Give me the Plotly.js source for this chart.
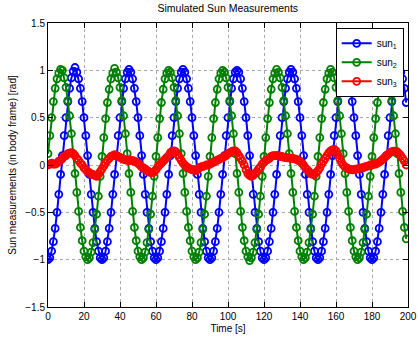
<!DOCTYPE html>
<html>
<head>
<meta charset="utf-8">
<script src="https://cdn.plot.ly/plotly-3.0.1.min.js"></script>
<style>
html,body{margin:0;padding:0;background:#fff;}
#chart{width:418px;height:337px;}
</style>
</head>
<body>
<div id="chart"></div>
<script>
const time = [0,1,2,3,4,5,6,7,8,9,10,11,12,13,14,15,16,17,18,19,20,21,22,23,24,25,26,27,28,29,
30,31,32,33,34,35,36,37,38,39,40,41,42,43,44,45,46,47,48,49,50,51,52,53,54,55,56,57,58,59,
60,61,62,63,64,65,66,67,68,69,70,71,72,73,74,75,76,77,78,79,80,81,82,83,84,85,86,87,88,89,
90,91,92,93,94,95,96,97,98,99,100,101,102,103,104,105,106,107,108,109,110,111,112,113,114,115,116,117,118,119,
120,121,122,123,124,125,126,127,128,129,130,131,132,133,134,135,136,137,138,139,140,141,142,143,144,145,146,147,148,149,
150,151,152,153,154,155,156,157,158,159,160,161,162,163,164,165,166,167,168,169,170,171,172,173,174,175,176,177,178,179,
180,181,182,183,184,185,186,187,188,189,190,191,192,193,194,195,196,197,198,199];

const sun1 = [
-1,-0.98,-0.91,-0.81,-0.67,-0.5,-0.31,-0.1,0.1,0.31,0.5,0.67,0.81,0.92,0.99,1.03,0.98,0.91,0.81,0.67,0.5,0.31,0.1,-0.1,-0.31,-0.5,-0.67,-0.81,-0.91,-0.98,
-1,-0.98,-0.91,-0.81,-0.67,-0.5,-0.31,-0.1,0.1,0.31,0.5,0.67,0.81,0.91,0.98,1.01,0.98,0.91,0.81,0.67,0.5,0.31,0.1,-0.1,-0.31,-0.5,-0.67,-0.81,-0.91,-0.98,
-1,-0.98,-0.91,-0.81,-0.67,-0.5,-0.31,-0.1,0.1,0.31,0.5,0.67,0.81,0.91,0.98,1.01,0.98,0.91,0.81,0.67,0.5,0.31,0.1,-0.1,-0.31,-0.5,-0.67,-0.81,-0.91,-0.98,
-1,-0.98,-0.91,-0.81,-0.67,-0.5,-0.31,-0.1,0.1,0.31,0.5,0.67,0.81,0.91,0.98,1,0.98,0.91,0.81,0.67,0.5,0.31,0.1,-0.1,-0.31,-0.5,-0.67,-0.81,-0.91,-0.98,
-1,-0.98,-0.91,-0.81,-0.67,-0.5,-0.31,-0.1,0.1,0.31,0.5,0.67,0.81,0.91,0.98,1.01,0.98,0.91,0.81,0.67,0.5,0.31,0.1,-0.1,-0.31,-0.5,-0.67,-0.81,-0.91,-0.98,
-1,-0.98,-0.91,-0.81,-0.67,-0.5,-0.31,-0.1,0.1,0.31,0.5,0.67,0.81,0.91,0.98,1,0.98,0.91,0.81,0.67,0.5,0.31,0.1,-0.1,-0.31,-0.5,-0.67,-0.81,-0.91,-0.98,
-1,-0.98,-0.91,-0.81,-0.67,-0.5,-0.31,-0.1,0.1,0.31,0.5,0.67,0.81,0.91,0.98,1,0.98,0.91,0.81,0.66];

const sun2 = [
0.12,0.31,0.5,0.67,0.81,0.91,0.97,1.01,1.0,0.92,0.82,0.68,0.52,0.33,0.12,-0.09,-0.29,-0.49,-0.66,-0.8,-0.91,-0.97,-1,-0.98,-0.92,-0.82,-0.68,-0.52,-0.33,-0.12,
0.09,0.29,0.49,0.66,0.8,0.91,0.97,1.02,0.98,0.92,0.82,0.68,0.52,0.33,0.12,-0.09,-0.29,-0.49,-0.66,-0.8,-0.91,-0.97,-1,-0.98,-0.92,-0.82,-0.68,-0.52,-0.33,-0.12,
0.09,0.29,0.49,0.66,0.8,0.91,0.97,1,0.98,0.92,0.82,0.68,0.52,0.33,0.12,-0.09,-0.29,-0.49,-0.66,-0.8,-0.91,-0.97,-1,-0.98,-0.92,-0.82,-0.68,-0.52,-0.33,-0.12,
0.09,0.29,0.49,0.66,0.8,0.91,0.97,1,0.98,0.92,0.82,0.68,0.52,0.33,0.12,-0.09,-0.29,-0.49,-0.66,-0.8,-0.91,-0.97,-1.01,-0.98,-0.92,-0.82,-0.68,-0.52,-0.33,-0.12,
0.09,0.29,0.49,0.66,0.8,0.91,0.97,1.01,0.98,0.92,0.82,0.68,0.52,0.33,0.12,-0.09,-0.29,-0.49,-0.66,-0.8,-0.91,-0.97,-1,-0.98,-0.92,-0.82,-0.68,-0.52,-0.33,-0.12,
0.09,0.29,0.49,0.66,0.8,0.91,0.97,1.01,0.98,0.92,0.82,0.68,0.52,0.33,0.12,-0.09,-0.29,-0.49,-0.66,-0.8,-0.91,-0.97,-1,-0.98,-0.92,-0.82,-0.68,-0.52,-0.33,-0.12,
0.09,0.29,0.49,0.66,0.8,0.91,0.97,1,0.98,0.92,0.82,0.68,0.52,0.33,0.12,-0.09,-0.29,-0.49,-0.66,-0.78];

const sun3 = [
0.00,0.01,0.02,0.01,0.01,0.02,0.04,0.05,0.07,0.09,0.10,0.12,0.125,0.13,0.12,0.10,0.07,0.05,0.02,0.00,
-0.03,-0.05,-0.07,-0.08,-0.10,-0.10,-0.11,-0.12,-0.10,-0.07,-0.04,-0.01,0.02,0.05,0.07,0.09,0.10,0.11,0.10,0.09,
0.08,0.07,0.06,0.055,0.05,0.05,0.05,0.045,0.04,0.03,0.02,0.00,-0.02,-0.03,-0.04,-0.06,-0.07,-0.08,-0.08,-0.07,
-0.05,-0.02,0.00,0.02,0.04,0.06,0.08,0.10,0.13,0.145,0.15,0.14,0.11,0.08,0.05,0.02,0.00,-0.02,-0.03,-0.04,
-0.05,-0.05,-0.06,-0.05,-0.03,-0.02,-0.015,-0.01,0.00,0.00,0.01,0.02,0.03,0.04,0.05,0.06,0.07,0.075,0.09,0.10,
0.12,0.13,0.14,0.15,0.15,0.13,0.10,0.07,0.04,0.00,-0.05,-0.09,-0.11,-0.12,-0.11,-0.09,-0.07,-0.04,-0.02,0.01,
0.03,0.05,0.06,0.07,0.09,0.10,0.10,0.10,0.10,0.09,0.09,0.08,0.08,0.075,0.075,0.07,0.07,0.065,0.06,0.05,
0.04,0.02,0.00,-0.03,-0.05,-0.07,-0.09,-0.10,-0.10,-0.08,-0.06,-0.03,0.01,0.04,0.07,0.10,0.13,0.15,0.16,0.165,
0.15,0.11,0.07,0.03,0.00,-0.02,-0.03,-0.04,-0.05,-0.05,-0.05,-0.045,-0.04,-0.035,-0.03,-0.03,-0.02,-0.015,-0.01,0.00,
0.00,0.01,0.01,0.02,0.03,0.045,0.06,0.08,0.10,0.115,0.13,0.14,0.145,0.145,0.14,0.12,0.10,0.07,0.04,0.00];

const seriesNames = ['sun<sub>1</sub>','sun<sub>2</sub>','sun<sub>3</sub>'];
const seriesColors = ['#0000ff','#008000','#ff0000'];
const seriesData = [sun1, sun2, sun3];

const traces = seriesData.map((ys, i) => ({
  x: time, y: ys, type: 'scatter', mode: 'lines+markers', name: seriesNames[i],
  line: {color: seriesColors[i], width: 2},
  marker: {symbol: 'circle-open', size: 7, color: seriesColors[i], line: {width: 1.8, color: seriesColors[i]}}
}));

const font = {family: '"Liberation Sans", Arial, Helvetica, sans-serif', size: 10, color: '#000'};
const axisCommon = {
  showline: true, linecolor: '#000', linewidth: 1, mirror: 'ticks',
  ticks: 'inside', ticklen: 5, tickcolor: '#000', tickwidth: 1,
  showgrid: true, gridcolor: '#a8a8a8', griddash: 'dot', gridwidth: 1,
  zeroline: false, tickfont: font
};
const layout = {
  width: 418, height: 337,
  margin: {l: 48, r: 10, t: 23, b: 30},
  paper_bgcolor: '#fff', plot_bgcolor: '#fff',
  font: font,
  title: {text: 'Simulated Sun Measurements', font: {family: font.family, size: 10.5, color: '#000'}, x: 0.545, xanchor: 'center', y: 0.985, yanchor: 'top'},
  xaxis: Object.assign({}, axisCommon, {range: [0, 200], dtick: 20, tick0: 0,
    title: {text: 'Time [s]', font: font, standoff: 3}}),
  yaxis: Object.assign({}, axisCommon, {range: [-1.5, 1.5], dtick: 0.5, tick0: 0,
    title: {text: 'Sun measurements (in body frame) [rad]', font: font, standoff: 6}}),
  showlegend: true,
  legend: {x: 0.988, y: 0.983, xanchor: 'right', yanchor: 'top', bgcolor: '#fff', bordercolor: '#000', borderwidth: 1,
    font: font, itemwidth: 30, tracegroupgap: 0},
};
Plotly.newPlot('chart', traces, layout, {displayModeBar: false, staticPlot: true});
</script>
</body>
</html>
